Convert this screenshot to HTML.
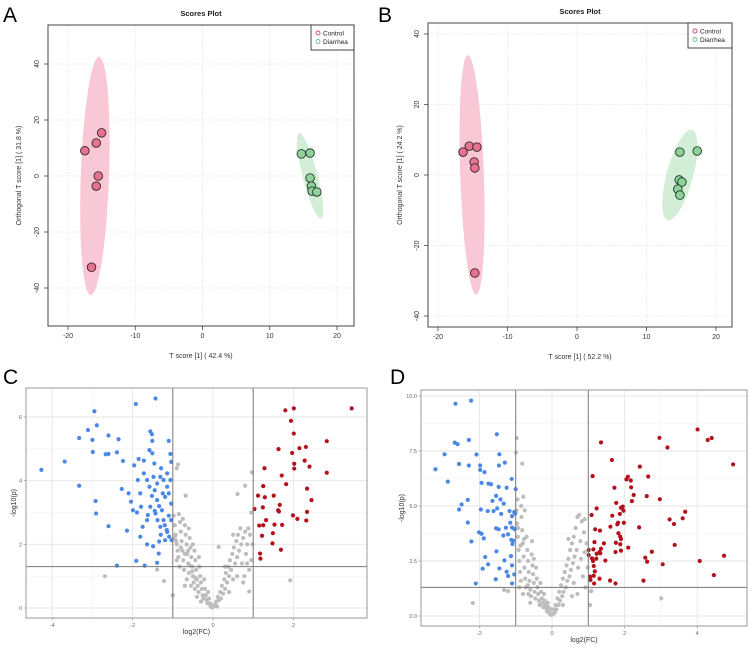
<!DOCTYPE html>
<html><head><meta charset="utf-8"><style>
html,body{margin:0;padding:0;background:#fff;}
svg{display:block;font-family:"Liberation Sans",sans-serif;}
</style></head><body>
<svg id="fig" width="750" height="647" viewBox="0 0 750 647" xmlns="http://www.w3.org/2000/svg">
<text x="3" y="22" font-size="21">A</text>
<text x="378" y="22" font-size="21">B</text>
<text x="3" y="384" font-size="21">C</text>
<text x="390" y="384" font-size="21">D</text>
</svg>
<script>
// ---------- Panel A data ----------
const aControlX = [-17.5, -15.8, -15.0, -15.5, -15.8, -16.5];
const aControlY = [9.0, 11.8, 15.4, 0.0, -3.6, -32.6];
const aDiarX = [14.7, 16.0, 16.0, 16.2, 16.3, 17.0];
const aDiarY = [7.9, 8.2, -0.7, -3.6, -5.4, -5.7];
const aTicksX = [-20, -10, 0, 10, 20];
const aTicksY = [-40, -20, 0, 20, 40];
// ---------- Panel B data ----------
const bControlX = [-16.4, -15.5, -14.4, -14.8, -14.7, -14.7];
const bControlY = [6.5, 8.2, 7.9, 3.7, 2.0, -27.8];
const bDiarX = [14.8, 17.3, 14.7, 15.1, 14.5, 14.8];
const bDiarY = [6.5, 6.8, -1.4, -2.0, -4.0, -5.7];
const bTicksX = [-20, -10, 0, 10, 20];
const bTicksY = [-40, -20, 0, 20, 40];
// ---------- Panel C data ----------
const cRed = [[1.80,6.21],[2.01,6.27],[3.45,6.27],[1.94,5.88],[2.01,5.48],[2.83,5.24],[1.63,4.99],[2.15,5.02],[2.31,5.06],[1.97,4.87],[2.28,4.63],[2.02,4.53],[2.40,4.44],[2.02,4.38],[1.28,4.39],[2.83,4.25],[1.71,4.16],[1.82,3.89],[1.25,3.83],[2.34,3.75],[1.12,3.53],[1.51,3.53],[1.29,3.48],[2.45,3.39],[1.03,3.11],[1.24,3.16],[1.66,3.24],[1.62,3.07],[1.64,3.03],[1.99,2.91],[2.34,3.02],[2.10,2.80],[2.32,2.75],[1.32,2.76],[1.15,2.59],[1.25,2.60],[1.53,2.62],[1.72,2.61],[1.22,2.27],[1.49,2.35],[1.48,2.03],[1.69,1.83],[1.17,1.71],[1.18,1.55]];
const cBlue = [[-4.27,4.34],[-1.43,6.58],[-1.92,6.41],[-2.95,6.18],[-2.89,5.74],[-3.11,5.59],[-3.33,5.34],[-3.00,5.28],[-2.60,5.42],[-2.35,5.30],[-1.56,5.55],[-1.52,5.46],[-1.51,5.25],[-1.10,5.25],[-2.99,4.90],[-2.67,4.83],[-2.60,4.84],[-2.39,4.89],[-3.69,4.60],[-2.24,4.62],[-1.85,4.68],[-1.58,4.96],[-1.51,4.86],[-1.46,4.54],[-1.96,4.48],[-1.72,4.63],[-1.06,4.84],[-1.04,4.59],[-1.29,4.39],[-3.33,3.84],[-2.92,3.36],[-2.91,2.97],[-2.27,3.74],[-2.10,3.60],[-2.60,2.57],[-2.14,2.43],[-2.04,3.34],[-1.89,3.00],[-1.81,3.60],[-1.79,3.18],[-1.87,4.02],[-1.72,4.23],[-1.64,4.02],[-1.58,3.81],[-1.52,3.52],[-1.45,3.70],[-1.39,3.39],[-1.34,3.20],[-1.31,4.12],[-1.23,4.02],[-1.19,3.49],[-1.14,3.81],[-1.10,3.60],[-1.06,4.02],[-1.04,3.28],[-1.43,2.97],[-1.38,2.76],[-1.31,2.55],[-1.23,2.76],[-1.14,2.39],[-1.09,2.24],[-1.04,2.76],[-1.19,2.13],[-1.64,2.00],[-1.49,1.94],[-1.35,1.71],[-1.39,1.42],[-1.91,1.48],[-1.70,1.33],[-2.39,1.33],[-1.34,2.09],[-1.64,2.76],[-1.75,2.55],[-1.99,3.07],[-1.56,3.18],[-1.27,3.07],[-1.39,3.91],[-1.48,4.12],[-1.14,4.23],[-1.62,2.92],[-1.81,2.24],[-1.03,2.13],[-1.20,2.60],[-1.10,2.90],[-1.25,3.60],[-1.45,3.05],[-1.15,2.45],[-1.30,2.30]];
const cGray = [[-0.87,4.51],[-0.90,4.39],[-0.68,3.53],[0.97,4.26],[0.80,3.84],[0.61,3.58],[-2.69,1.0],[-1.22,0.85],[-1.0,0.4],[1.92,0.87],[0.9,0.52],[0.14,1.92],[-1.39,1.21],
[-0.98,2.9],[-0.95,2.6],[-0.93,2.3],[-0.9,2.0],[-0.88,1.8],[-0.92,2.1],[-0.85,2.95],[-0.82,2.7],[-0.8,2.4],[-0.78,2.1],[-0.76,1.8],[-0.74,1.5],[-0.86,1.6],[-0.83,1.3],[-0.7,2.6],[-0.68,2.3],[-0.66,2.0],[-0.64,1.7],[-0.62,1.4],[-0.6,1.1],[-0.72,1.2],[-0.58,2.2],[-0.56,1.9],[-0.54,1.6],[-0.52,1.3],[-0.5,1.0],[-0.48,0.8],[-0.55,0.7],[-0.46,1.8],[-0.44,1.5],[-0.42,1.2],[-0.4,0.9],[-0.38,0.7],[-0.36,0.5],[-0.45,0.6],[-0.34,1.3],[-0.32,1.0],[-0.3,0.8],[-0.28,0.6],[-0.26,0.4],[-0.24,0.3],[-0.22,0.9],[-0.2,0.6],[-0.18,0.4],[-0.16,0.25],[-0.14,0.15],[-0.12,0.5],[-0.1,0.3],[-0.08,0.15],[-0.06,0.05],[-0.04,0.1],[-0.02,0.02],[-0.65,0.9],[-0.7,0.7],[-0.6,2.5],[-0.75,2.8],[-0.5,2.0],[-0.35,1.6],[-0.3,0.2],[-0.4,0.35],[-0.9,1.5],[-0.95,2.2],[-0.8,1.9],[-0.62,1.8],[-0.7,1.7],[-0.58,1.35],[-0.52,1.15],[-0.44,0.95],
[0.02,0.05],[0.05,0.1],[0.08,0.2],[0.1,0.05],[0.12,0.35],[0.15,0.25],[0.18,0.5],[0.2,0.3],[0.22,0.7],[0.25,0.45],[0.28,0.9],[0.3,0.6],[0.32,1.1],[0.35,0.8],[0.38,1.3],[0.4,1.0],[0.42,1.5],[0.45,1.2],[0.48,1.7],[0.5,0.9],[0.52,1.9],[0.55,1.4],[0.58,2.1],[0.6,1.6],[0.62,2.3],[0.65,1.8],[0.68,2.5],[0.7,2.0],[0.72,1.4],[0.75,2.2],[0.78,1.0],[0.8,2.4],[0.82,1.7],[0.85,2.0],[0.88,2.5],[0.9,1.2],[0.92,2.3],[0.95,1.5],[0.98,2.0],[0.6,1.0],[0.4,0.5],[0.3,1.3],[0.5,2.3],[0.75,0.8],[0.85,1.4],[0.95,3.0]];
const cTicksX = [-4, -2, 0, 2];
const cTicksY = [0, 2, 4, 6];
// ---------- Panel D data ----------
const dRed = [[4.01,8.48],[4.29,8.0],[4.40,8.09],[2.96,8.1],[1.35,7.89],[3.18,7.66],[1.65,7.09],[4.99,6.89],[2.42,6.79],[1.12,6.36],[2.09,6.33],[2.65,6.34],[2.05,6.21],[2.17,6.16],[2.18,5.85],[1.72,5.83],[2.25,5.50],[2.20,5.22],[2.61,5.45],[2.97,5.31],[1.77,5.14],[1.95,4.97],[1.23,4.89],[1.90,4.92],[1.97,4.79],[3.67,4.74],[1.09,4.59],[1.66,4.56],[1.87,4.64],[3.60,4.44],[3.24,4.39],[1.80,4.17],[3.36,4.18],[1.98,4.24],[1.82,4.24],[1.61,4.06],[2.40,4.03],[1.19,3.94],[1.32,3.88],[1.83,3.76],[1.88,3.61],[1.90,3.50],[1.43,3.30],[1.17,3.36],[1.76,3.33],[3.38,3.23],[1.88,3.26],[2.10,3.11],[1.01,3.0],[1.14,3.03],[1.35,3.06],[1.31,2.91],[1.75,2.91],[1.90,2.97],[2.75,2.92],[1.01,2.77],[1.23,2.83],[1.33,2.85],[4.74,2.74],[1.10,2.62],[2.57,2.65],[1.22,2.61],[1.13,2.50],[1.47,2.52],[4.07,2.50],[2.62,2.47],[3.05,2.35],[1.15,2.27],[1.18,2.03],[1.05,1.79],[1.15,1.83],[1.31,1.70],[1.06,1.64],[1.60,1.61],[1.16,1.48],[1.75,1.48],[2.52,1.61],[4.46,1.86]];
const dBlue = [[-2.66,9.65],[-2.23,9.79],[-1.52,8.26],[-2.68,7.88],[-2.60,7.81],[-2.29,8.0],[-2.96,7.35],[-2.08,7.34],[-1.45,7.35],[-1.30,6.97],[-3.21,6.67],[-2.56,6.91],[-2.29,6.84],[-1.98,6.84],[-1.46,6.84],[-1.98,6.64],[-1.86,6.54],[-2.87,6.11],[-1.94,6.05],[-1.75,6.02],[-1.68,5.99],[-1.11,6.23],[-1.47,5.87],[-1.25,5.83],[-1.0,5.77],[-1.54,5.46],[-1.64,5.23],[-1.42,5.30],[-1.33,5.11],[-2.32,5.28],[-2.49,5.07],[-2.56,4.84],[-1.96,4.84],[-1.77,4.77],[-1.61,4.77],[-1.51,4.89],[-1.40,4.64],[-1.17,4.77],[-1.10,4.54],[-1.04,4.72],[-1.01,4.66],[-2.32,4.25],[-2.01,3.80],[-1.94,3.74],[-1.88,3.53],[-1.54,3.99],[-1.47,3.94],[-1.34,3.66],[-1.27,4.01],[-1.21,3.71],[-1.15,4.24],[-1.10,4.02],[-1.03,3.95],[-2.22,3.39],[-1.12,3.46],[-1.09,3.27],[-1.07,3.42],[-1.53,2.94],[-1.84,2.68],[-1.13,2.72],[-1.76,2.35],[-1.91,2.15],[-1.45,2.16],[-1.31,2.53],[-1.10,2.30],[-1.25,2.01],[-1.21,1.82],[-1.04,1.89],[-2.10,1.48],[-1.55,1.67],[-1.10,1.48]];
const dGray = [[-0.97,8.09],[-0.99,7.43],[-0.82,6.93],[-0.79,5.42],[-2.18,0.59],[-1.32,1.18],[-1.21,1.13],[3.01,0.80],[1.05,0.5],[1.08,1.13],
[-0.98,4.8],[-0.96,4.2],[-0.94,3.6],[-0.92,3.0],[-0.9,2.5],[-0.88,2.0],[-0.86,1.6],[-0.84,4.5],[-0.82,3.9],[-0.8,3.3],[-0.78,2.7],[-0.76,2.2],[-0.74,1.7],[-0.72,1.3],[-0.7,3.6],[-0.68,3.0],[-0.66,2.5],[-0.64,2.0],[-0.62,1.6],[-0.6,1.2],[-0.58,0.9],[-0.56,2.8],[-0.54,2.3],[-0.52,1.9],[-0.5,1.5],[-0.48,1.1],[-0.46,0.8],[-0.44,2.2],[-0.42,1.7],[-0.4,1.3],[-0.38,1.0],[-0.36,0.7],[-0.34,0.5],[-0.32,1.5],[-0.3,1.1],[-0.28,0.8],[-0.26,0.6],[-0.24,0.4],[-0.22,1.0],[-0.2,0.7],[-0.18,0.5],[-0.16,0.35],[-0.14,0.2],[-0.12,0.6],[-0.1,0.4],[-0.08,0.2],[-0.06,0.1],[-0.04,0.3],[-0.02,0.05],[-0.9,1.3],[-0.8,1.0],[-0.75,4.8],[-0.65,1.0],[-0.55,3.4],[-0.95,5.3],[-0.85,5.0],[-0.6,0.6],[-0.93,4.0],[-0.87,3.2],[-0.77,3.5],[-0.67,1.4],[-0.5,2.6],
[0.02,0.1],[0.05,0.3],[0.08,0.15],[0.1,0.5],[0.12,0.3],[0.15,0.8],[0.18,0.5],[0.2,1.1],[0.22,0.7],[0.25,1.4],[0.28,0.9],[0.3,1.7],[0.32,1.1],[0.35,2.0],[0.38,1.3],[0.4,2.3],[0.42,1.6],[0.45,2.6],[0.48,1.8],[0.5,3.0],[0.52,2.1],[0.55,3.3],[0.58,2.4],[0.6,3.6],[0.62,2.7],[0.65,4.0],[0.68,3.0],[0.7,4.5],[0.72,2.2],[0.75,4.6],[0.78,3.4],[0.8,2.6],[0.82,4.3],[0.85,1.8],[0.88,3.8],[0.9,2.9],[0.92,1.3],[0.95,3.3],[0.98,2.2],[0.45,3.5],[0.6,1.5],[0.3,0.5],[0.9,4.4],[0.7,1.0],[0.55,0.9]];
const dTicksX = [-2, 0, 2, 4];
const dTicksY = [0, 2.5, 5, 7.5, 10];
const dTickLabelsY = ["0.0", "2.5", "5.0", "7.5", "10.0"];

const NS = "http://www.w3.org/2000/svg";
const svg = document.getElementById("fig");
function mk(tag, attrs, parent) {
  const e = document.createElementNS(NS, tag);
  for (const k in attrs) e.setAttribute(k, attrs[k]);
  (parent || svg).appendChild(e);
  return e;
}
function lin(d0, d1, r0, r1) { return v => r0 + (v - d0) * (r1 - r0) / (d1 - d0); }

function scores(p) {
  const g = mk("g", {});
  
  
  const sx = lin(p.dx[0], p.dx[1], p.px[0], p.px[1]);
  const sy = lin(p.dy[0], p.dy[1], p.py[0], p.py[1]);
  const L = p.box[0], T = p.box[1], R = p.box[2], B = p.box[3];
  // grid
  p.tx.forEach(v => {
    const l = mk("line", {x1: sx(v), x2: sx(v), y1: T, y2: B, stroke: "#e4e4e4", "stroke-dasharray": "1.5,1.5", "stroke-width": 0.8}, g);
    
    
  });
  p.ty.forEach(v => {
    const l = mk("line", {x1: L, x2: R, y1: sy(v), y2: sy(v), stroke: "#e4e4e4", "stroke-dasharray": "1.5,1.5", "stroke-width": 0.8}, g);
    
    
  });
  // ellipses
  p.ell.forEach(e => {
    const cx = sx(e.cx), cy = sy(e.cy);
    const rx = Math.abs(sx(e.rx) - sx(0)), ry = Math.abs(sy(e.ry) - sy(0));
    const el = mk("ellipse", {cx: cx, cy: cy, rx: rx, ry: ry, fill: e.fill, transform: `rotate(${e.ang} ${cx} ${cy})`}, g);
    
    
  });
  // points
  p.ctlX.forEach((v, i) => {
    const c = mk("circle", {cx: sx(v), cy: sy(p.ctlY[i]), r: 4.3, fill: "#e5738f", stroke: "#3a2228", "stroke-width": 0.9}, g);
    
    
  });
  p.diaX.forEach((v, i) => {
    const c = mk("circle", {cx: sx(v), cy: sy(p.diaY[i]), r: 4.3, fill: "#8ed39a", stroke: "#23382a", "stroke-width": 0.9}, g);
    
    
  });
  // box
  const bx = mk("rect", {x: L, y: T, width: R - L, height: B - T, fill: "none", stroke: "#444", "stroke-width": 1}, g);
  
  
  // ticks
  p.tx.forEach(v => {
    mk("line", {x1: sx(v), x2: sx(v), y1: B, y2: B + 4, stroke: "#444", "stroke-width": 0.8}, g);
    const t = mk("text", {x: sx(v), y: B + 12, "font-size": 7, fill: "#333", "text-anchor": "middle"}, g);
    t.textContent = v;
    
    
  });
  p.ty.forEach(v => {
    mk("line", {x1: L - 4, x2: L, y1: sy(v), y2: sy(v), stroke: "#444", "stroke-width": 0.8}, g);
    const x = L - 9, y = sy(v);
    const t = mk("text", {x: x, y: y, "font-size": 7, fill: "#333", "text-anchor": "middle", transform: `rotate(-90 ${x} ${y})`}, g);
    t.textContent = v;
    
    
  });
  const ti = mk("text", {x: (L + R) / 2, y: T - 9, "font-size": 7.5, "font-weight": "bold", fill: "#222", "text-anchor": "middle"}, g);
  ti.textContent = "Scores Plot";
  
  
  const xt = mk("text", {x: (L + R) / 2, y: B + 32, "font-size": 7, fill: "#333", "text-anchor": "middle"}, g);
  xt.textContent = p.xtitle;
  
  
  const yx = p.ytx, yy = (T + B) / 2;
  const yt = mk("text", {x: yx, y: yy, "font-size": 7, fill: "#333", "text-anchor": "middle", transform: `rotate(-90 ${yx} ${yy})`}, g);
  yt.textContent = p.ytitle;
  
  
  // legend
  const lg = mk("g", {}, g);
  
  
  const lx = p.leg[0], ly = p.leg[1];
  mk("rect", {x: lx, y: ly, width: R - lx, height: 25, fill: "#fff", stroke: "#333", "stroke-width": 0.9}, lg);
  [["Control", "#d8466a"], ["Diarrhea", "#6cc27a"]].forEach((it, i) => {
    const e = mk("g", {}, lg);
    
    
    mk("circle", {cx: lx + 7, cy: ly + 8 + i * 8.5, r: 2, fill: "none", stroke: it[1], "stroke-width": 0.9}, e);
    const t = mk("text", {x: lx + 12, y: ly + 10.5 + i * 8.5, "font-size": 6.5, fill: "#222"}, e);
    t.textContent = it[0];
  });
}

scores({name: "scores-plot-a", box: [48, 25, 354, 326], dx: [-20, 20], px: [68, 337], dy: [0, 40], py: [176, 64],
  tx: aTicksX, ty: aTicksY, ctlX: aControlX, ctlY: aControlY, diaX: aDiarX, diaY: aDiarY,
  ell: [{name: "control-ellipse", cx: -16, cy: 0, rx: 2.1, ry: 42.6, ang: 2, fill: "#f8c8d6"},
        {name: "diarrhea-ellipse", cx: 16, cy: 0, rx: 1.1, ry: 15.8, ang: -14.5, fill: "#d3eed6"}],
  xtitle: "T score [1] ( 42.4 %)", ytitle: "Orthogonal T score [1] ( 31.8 %)", ytx: 21, leg: [311, 25]});
scores({name: "scores-plot-b", box: [428, 23, 732, 327], dx: [-20, 20], px: [438, 716], dy: [0, 40], py: [175, 34],
  tx: bTicksX, ty: bTicksY, ctlX: bControlX, ctlY: bControlY, diaX: bDiarX, diaY: bDiarY,
  ell: [{name: "control-ellipse", cx: -15.1, cy: 0, rx: 1.7, ry: 34, ang: -2, fill: "#f8c8d6"},
        {name: "diarrhea-ellipse", cx: 14.8, cy: 0, rx: 1.9, ry: 13.3, ang: 15, fill: "#d3eed6"}],
  xtitle: "T score [1] ( 52.2 %)", ytitle: "Orthogonal T score [1] ( 24.2 %)", ytx: 402, leg: [688, 23]});

function volcano(p) {
  const g = mk("g", {});
  
  
  const sx = lin(p.dx[0], p.dx[1], p.px[0], p.px[1]);
  const sy = lin(p.dy[0], p.dy[1], p.py[0], p.py[1]);
  const L = p.box[0], T = p.box[1], R = p.box[2], B = p.box[3];
  mk("rect", {x: L, y: T, width: R - L, height: B - T, fill: "#fff"}, g);
  // minor grid
  p.tx.forEach((v, i) => {
    if (i < p.tx.length - 1) {
      const m = (v + p.tx[i + 1]) / 2;
      mk("line", {x1: sx(m), x2: sx(m), y1: T, y2: B, stroke: "#f1f1f1", "stroke-width": 0.6}, g);
    }
  });
  p.ty.forEach((v, i) => {
    if (i < p.ty.length - 1) {
      const m = (v + p.ty[i + 1]) / 2;
      mk("line", {x1: L, x2: R, y1: sy(m), y2: sy(m), stroke: "#f1f1f1", "stroke-width": 0.6}, g);
    }
  });
  p.tx.forEach(v => {
    const l = mk("line", {x1: sx(v), x2: sx(v), y1: T, y2: B, stroke: "#e6e6e6", "stroke-width": 0.9}, g);
    
    
  });
  p.ty.forEach(v => {
    const l = mk("line", {x1: L, x2: R, y1: sy(v), y2: sy(v), stroke: "#e6e6e6", "stroke-width": 0.9}, g);
    
    
  });
  const draw = (arr, col, nm) => arr.forEach(d => {
    const c = mk("circle", {cx: sx(d[0]), cy: sy(d[1]), r: 2.1, fill: col}, g);
    
    
  });
  draw(p.gray, "#bdbdbd", "nonsignificant-point");
  draw(p.blue, "#4b88e6", "downregulated-point");
  draw(p.red, "#b3111c", "upregulated-point");
  [-1, 1].forEach(v => {
    const l = mk("line", {x1: sx(v), x2: sx(v), y1: T, y2: B, stroke: "#777", "stroke-width": 1}, g);
    
    
  });
  const h = mk("line", {x1: L, x2: R, y1: sy(1.3), y2: sy(1.3), stroke: "#777", "stroke-width": 1}, g);
  
  
  const fr = mk("rect", {x: L, y: T, width: R - L, height: B - T, fill: "none", stroke: "#999", "stroke-width": 1}, g);
  
  
  p.tx.forEach(v => {
    mk("line", {x1: sx(v), x2: sx(v), y1: B, y2: B + 2.5, stroke: "#999", "stroke-width": 0.7}, g);
    const t = mk("text", {x: sx(v), y: B + 9, "font-size": 5.5, fill: "#666", "text-anchor": "middle"}, g);
    t.textContent = v;
    
    
  });
  p.ty.forEach((v, i) => {
    mk("line", {x1: L - 2.5, x2: L, y1: sy(v), y2: sy(v), stroke: "#999", "stroke-width": 0.7}, g);
    const t = mk("text", {x: L - 4, y: sy(v) + 2, "font-size": 5.5, fill: "#666", "text-anchor": "end"}, g);
    t.textContent = p.tyl ? p.tyl[i] : v;
    
    
  });
  const xt = mk("text", {x: (L + R) / 2, y: B + 16, "font-size": 7, fill: "#333", "text-anchor": "middle"}, g);
  xt.textContent = "log2(FC)";
  
  
  const yx = p.ytx, yy = (T + B) / 2;
  const yt = mk("text", {x: yx, y: yy, "font-size": 7, fill: "#333", "text-anchor": "middle", transform: `rotate(-90 ${yx} ${yy})`}, g);
  yt.textContent = "-log10(p)";
  
  
}

volcano({name: "volcano-plot-c", box: [26, 388, 367, 618], dx: [0, 2], px: [213, 293.4], dy: [0, 6], py: [608, 417],
  tx: cTicksX, ty: cTicksY, red: cRed, blue: cBlue, gray: cGray, ytx: 16});
volcano({name: "volcano-plot-d", box: [421, 390, 747, 626], dx: [0, 2], px: [552, 624.6], dy: [0, 10], py: [616, 396],
  tx: dTicksX, ty: dTicksY, tyl: dTickLabelsY, red: dRed, blue: dBlue, gray: dGray, ytx: 404});
</script>
</body></html>
